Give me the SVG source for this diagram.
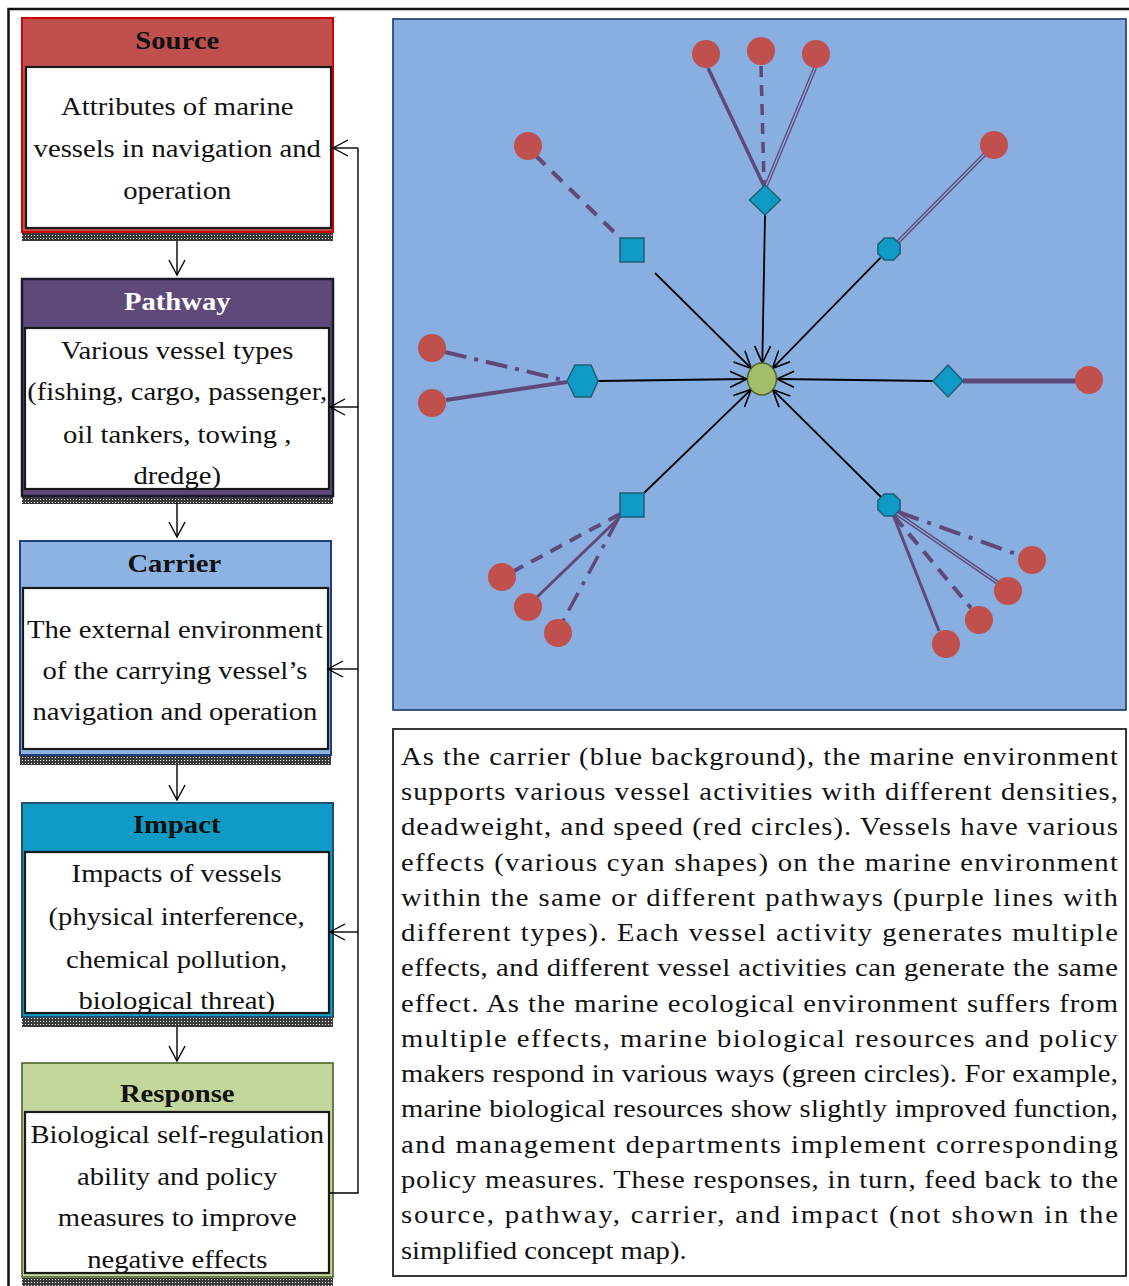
<svg xmlns="http://www.w3.org/2000/svg" width="1129" height="1286" viewBox="0 0 1129 1286">
<defs>
<pattern id="hatch" width="3" height="3" patternUnits="userSpaceOnUse">
<rect width="3" height="3" fill="#3a3a3a"/>
<rect x="1" y="1" width="1" height="1" fill="#ffffff"/>
</pattern>
<marker id="open" markerUnits="userSpaceOnUse" markerWidth="24" markerHeight="24" viewBox="-20 -12 24 24" refX="0" refY="0" orient="auto">
<path d="M-17,-8 L0,0 L-17,8" fill="none" stroke="#000" stroke-width="1.6"/>
</marker>
<marker id="vhead" markerUnits="userSpaceOnUse" markerWidth="24" markerHeight="24" viewBox="-20 -12 24 24" refX="0" refY="0" orient="auto">
<path d="M-15,-8 L0,0 L-15,8" fill="none" stroke="#000" stroke-width="1.4"/>
</marker>
<style>
.t{font-family:"Liberation Serif","Times New Roman",serif;font-size:24.5px;fill:#111;}
.h{font-family:"Liberation Serif","Times New Roman",serif;font-size:24.5px;font-weight:bold;}
.c{text-anchor:middle;}
.inner{fill:#fff;stroke:#1a1a1a;stroke-width:2.2;}
.flow{stroke:#000;stroke-width:1.4;fill:none;}
.pl{stroke:#5F497A;fill:none;stroke-linecap:butt;}
.bl{stroke:#000;fill:none;stroke-width:1.8;}
.red{fill:#C0504D;}
.cy{fill:#0F9BC6;stroke:#1F5F75;stroke-width:1.5;}
</style>
</defs>
<rect width="1129" height="1286" fill="#fff"/>
<rect x="8.5" y="9" width="1130" height="1290" fill="none" stroke="#111" stroke-width="2.5"/>

<!-- Left column -->
<g id="source">
<rect x="22" y="18" width="311" height="214" fill="#C0504D" stroke="#D00000" stroke-width="2"/>
<rect x="22" y="233" width="311" height="8" fill="url(#hatch)"/>
<text class="h c" x="151.5" y="49" transform="scale(1.17,1)" fill="#111">Source</text>
<rect class="inner" x="26" y="67" width="305" height="161"/>
<text class="t c" x="151.5" y="115" transform="scale(1.17,1)">Attributes of marine</text>
<text class="t c" x="151.5" y="157" transform="scale(1.17,1)">vessels in navigation and</text>
<text class="t c" x="151.5" y="199" transform="scale(1.17,1)">operation</text>
</g>

<g id="pathway">
<rect x="22" y="279" width="311" height="217" fill="#5F497A" stroke="#1a1a2a" stroke-width="2.5"/>
<rect x="22" y="497" width="311" height="7" fill="url(#hatch)"/>
<text class="h c" x="151.5" y="310" transform="scale(1.17,1)" fill="#fff">Pathway</text>
<rect class="inner" x="25" y="328" width="304" height="161" stroke-width="2.6"/>
<text class="t c" x="151.5" y="359" transform="scale(1.17,1)">Various vessel types</text>
<text class="t c" x="151.5" y="400" transform="scale(1.17,1)">(fishing, cargo, passenger,</text>
<text class="t c" x="151.5" y="443" transform="scale(1.17,1)">oil tankers, towing ,</text>
<text class="t c" x="151.5" y="484" transform="scale(1.17,1)">dredge)</text>
</g>

<g id="carrier">
<rect x="20" y="541" width="311" height="214" fill="#8DB3E2" stroke="#1F3F7F" stroke-width="2"/>
<rect x="20" y="756" width="311" height="9" fill="url(#hatch)"/>
<text class="h c" x="149" y="572" transform="scale(1.17,1)" fill="#111">Carrier</text>
<rect class="inner" x="23" y="588" width="305" height="161"/>
<text class="t c" x="149.5" y="638" transform="scale(1.17,1)">The external environment</text>
<text class="t c" x="149.5" y="679" transform="scale(1.17,1)">of the carrying vessel’s</text>
<text class="t c" x="149.5" y="720" transform="scale(1.17,1)">navigation and operation</text>
</g>

<g id="impact">
<rect x="22" y="803" width="311" height="214" fill="#0F9BC6" stroke="#1F4E6E" stroke-width="2"/>
<rect x="22" y="1018" width="311" height="9" fill="url(#hatch)"/>
<text class="h c" x="151" y="833" transform="scale(1.17,1)" fill="#111">Impact</text>
<rect class="inner" x="25" y="852" width="304" height="161"/>
<text class="t c" x="151" y="882" transform="scale(1.17,1)">Impacts of vessels</text>
<text class="t c" x="151" y="925" transform="scale(1.17,1)">(physical interference,</text>
<text class="t c" x="151" y="968" transform="scale(1.17,1)">chemical pollution,</text>
<text class="t c" x="151" y="1009" transform="scale(1.17,1)">biological threat)</text>
</g>

<g id="response">
<rect x="22" y="1063" width="311" height="214" fill="#C3D69B" stroke="#4F6228" stroke-width="1.6"/>
<rect x="22" y="1278" width="311" height="8" fill="url(#hatch)"/>
<text class="h c" x="151.5" y="1102" transform="scale(1.17,1)" fill="#111">Response</text>
<rect class="inner" x="25" y="1112" width="304" height="161"/>
<text class="t c" x="151.5" y="1143" transform="scale(1.17,1)">Biological self-regulation</text>
<text class="t c" x="151.5" y="1185" transform="scale(1.17,1)">ability and policy</text>
<text class="t c" x="151.5" y="1226" transform="scale(1.17,1)">measures to improve</text>
<text class="t c" x="151.5" y="1268" transform="scale(1.17,1)">negative effects</text>
</g>

<g id="flow-connectors">
<line class="flow" x1="177" y1="241" x2="177" y2="275" marker-end="url(#vhead)"/>
<line class="flow" x1="177" y1="503" x2="177" y2="537" marker-end="url(#vhead)"/>
<line class="flow" x1="177" y1="765" x2="177" y2="800" marker-end="url(#vhead)"/>
<line class="flow" x1="177" y1="1027" x2="177" y2="1061" marker-end="url(#vhead)"/>
<polyline class="flow" points="330,1193 358,1193 358,148"/>
<line class="flow" x1="358" y1="148" x2="333" y2="148" marker-end="url(#vhead)"/>
<line class="flow" x1="358" y1="407" x2="330" y2="407" marker-end="url(#vhead)"/>
<line class="flow" x1="358" y1="669" x2="328" y2="669" marker-end="url(#vhead)"/>
<line class="flow" x1="358" y1="932" x2="330" y2="932" marker-end="url(#vhead)"/>
</g>

<!-- Right panel -->
<rect id="panel" x="393" y="19" width="733" height="691" fill="#88AFE0" stroke="#2A4A7A" stroke-width="1.8"/>

<g id="network-connectors">
<!-- purple pathways -->
<line class="pl" x1="708" y1="68" x2="764" y2="186" stroke-width="3.5"/>
<line class="pl" x1="761" y1="66" x2="764" y2="184" stroke-width="3.5" stroke-dasharray="11 8"/>
<line class="pl" x1="815" y1="68" x2="766" y2="186" stroke-width="4"/>
<line x1="815" y1="68" x2="766" y2="186" stroke="#88AFE0" stroke-width="1.4"/>
<line class="pl" x1="535" y1="155" x2="614" y2="232" stroke-width="4" stroke-dasharray="14 10"/>
<line class="pl" x1="985" y1="154" x2="898" y2="242" stroke-width="4"/>
<line x1="985" y1="154" x2="898" y2="242" stroke="#88AFE0" stroke-width="1.4"/>
<line class="pl" x1="445" y1="352" x2="567" y2="381" stroke-width="4" stroke-dasharray="22 8 4 8"/>
<line class="pl" x1="446" y1="400" x2="567" y2="382" stroke-width="4"/>
<line class="pl" x1="963" y1="381" x2="1076" y2="381" stroke-width="5"/>
<line class="pl" x1="620" y1="514" x2="514" y2="571" stroke-width="4" stroke-dasharray="13 9"/>
<line class="pl" x1="622" y1="515" x2="536" y2="598" stroke-width="3"/>
<line class="pl" x1="618" y1="519" x2="563" y2="621" stroke-width="3.5" stroke-dasharray="20 9 4 9"/>
<line class="pl" x1="898" y1="512" x2="1019" y2="555" stroke-width="4" stroke-dasharray="22 9 4 9"/>
<line class="pl" x1="896" y1="513" x2="998" y2="583" stroke-width="4"/>
<line x1="896" y1="513" x2="998" y2="583" stroke="#88AFE0" stroke-width="1.4"/>
<line class="pl" x1="894" y1="516" x2="971" y2="608" stroke-width="4" stroke-dasharray="14 9"/>
<line class="pl" x1="894" y1="517" x2="939" y2="631" stroke-width="3"/>
<!-- effects to response -->
<line class="bl" x1="765" y1="215" x2="762.3" y2="363" marker-end="url(#open)"/>
<line class="bl" x1="655" y1="273" x2="751.3" y2="368.4" stroke-width="0.8" marker-end="url(#open)"/>
<line class="bl" x1="880.6" y1="257.6" x2="772.5" y2="368.3" marker-end="url(#open)"/>
<line class="bl" x1="598" y1="381" x2="747" y2="379" marker-end="url(#open)"/>
<line class="bl" x1="933" y1="381" x2="777" y2="379" marker-end="url(#open)"/>
<line class="bl" x1="644" y1="493" x2="751.2" y2="389.4" marker-end="url(#open)"/>
<line class="bl" x1="881" y1="497" x2="772.6" y2="389.6" marker-end="url(#open)"/>
</g>

<g id="response-node"><ellipse cx="762" cy="379" rx="14.5" ry="16" fill="#A3BE6B" stroke="#4F6228" stroke-width="1.5"/></g>

<g id="effect-diamond-top"><polygon class="cy" points="765,185 780.5,200 765,215 749.5,200"/></g>
<g id="effect-square-top"><rect class="cy" x="620" y="238" width="24" height="24"/></g>
<g id="effect-octagon-top"><polygon class="cy" points="900.1,253.6 893.6,260.1 884.4,260.1 877.9,253.6 877.9,244.4 884.4,237.9 893.6,237.9 900.1,244.4"/></g>
<g id="effect-hexagon"><polygon class="cy" points="567,381 575,365 591,365 598,381 591,397 575,397"/></g>
<g id="effect-diamond-right"><polygon class="cy" points="948,365 963,381 948,397 933,381"/></g>
<g id="effect-square-bottom"><rect class="cy" x="620" y="493" width="24" height="24"/></g>
<g id="effect-octagon-bottom"><polygon class="cy" points="900.1,509.6 893.6,516.1 884.4,516.1 877.9,509.6 877.9,500.4 884.4,493.9 893.6,493.9 900.1,500.4"/></g>

<g id="vessel-1"><circle class="red" cx="706" cy="54" r="14"/></g>
<g id="vessel-2"><circle class="red" cx="761" cy="51" r="14"/></g>
<g id="vessel-3"><circle class="red" cx="816" cy="54" r="14"/></g>
<g id="vessel-4"><circle class="red" cx="528" cy="146" r="14"/></g>
<g id="vessel-5"><circle class="red" cx="994" cy="145" r="14"/></g>
<g id="vessel-6"><circle class="red" cx="432" cy="348" r="14"/></g>
<g id="vessel-7"><circle class="red" cx="432" cy="403" r="14"/></g>
<g id="vessel-8"><circle class="red" cx="1089" cy="380" r="14"/></g>
<g id="vessel-9"><circle class="red" cx="502" cy="577" r="14"/></g>
<g id="vessel-10"><circle class="red" cx="528" cy="607" r="14"/></g>
<g id="vessel-11"><circle class="red" cx="558" cy="633" r="14"/></g>
<g id="vessel-12"><circle class="red" cx="1032" cy="560" r="14"/></g>
<g id="vessel-13"><circle class="red" cx="1008" cy="591" r="14"/></g>
<g id="vessel-14"><circle class="red" cx="979" cy="620" r="14"/></g>
<g id="vessel-15"><circle class="red" cx="946" cy="644" r="14"/></g>

<!-- Description box -->
<g id="description">
<rect x="393" y="729" width="733" height="547" fill="#fff" stroke="#222" stroke-width="1.8"/>
<g class="t" transform="scale(1.17,1)">
<text x="342.7" y="765" textLength="612.8" lengthAdjust="spacing">As the carrier (blue background), the marine environment</text>
<text x="342.7" y="800.3" textLength="612.8" lengthAdjust="spacing">supports various vessel activities with different densities,</text>
<text x="342.7" y="835.5" textLength="612.8" lengthAdjust="spacing">deadweight, and speed (red circles). Vessels have various</text>
<text x="342.7" y="870.8" textLength="612.8" lengthAdjust="spacing">effects (various cyan shapes) on the marine environment</text>
<text x="342.7" y="906" textLength="612.8" lengthAdjust="spacing">within the same or different pathways (purple lines with</text>
<text x="342.7" y="941.3" textLength="612.8" lengthAdjust="spacing">different types). Each vessel activity generates multiple</text>
<text x="342.7" y="976.5" textLength="612.8" lengthAdjust="spacing">effects, and different vessel activities can generate the same</text>
<text x="342.7" y="1011.8" textLength="612.8" lengthAdjust="spacing">effect. As the marine ecological environment suffers from</text>
<text x="342.7" y="1047" textLength="612.8" lengthAdjust="spacing">multiple effects, marine biological resources and policy</text>
<text x="342.7" y="1082.3" textLength="612.8" lengthAdjust="spacing">makers respond in various ways (green circles). For example,</text>
<text x="342.7" y="1117.5" textLength="612.8" lengthAdjust="spacing">marine biological resources show slightly improved function,</text>
<text x="342.7" y="1152.8" textLength="612.8" lengthAdjust="spacing">and management departments implement corresponding</text>
<text x="342.7" y="1188" textLength="612.8" lengthAdjust="spacing">policy measures. These responses, in turn, feed back to the</text>
<text x="342.7" y="1223.3" textLength="612.8" lengthAdjust="spacing">source, pathway, carrier, and impact (not shown in the</text>
<text x="342.7" y="1258.5">simplified concept map).</text>
</g>
</g>
</svg>
